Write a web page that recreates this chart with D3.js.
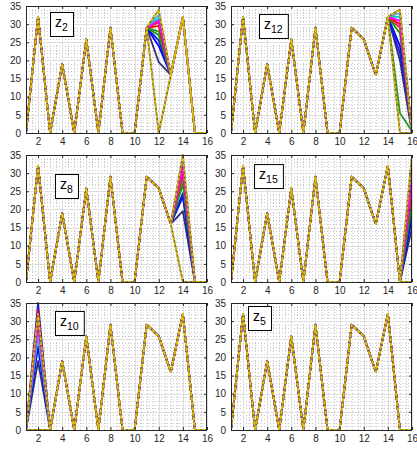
<!DOCTYPE html>
<html><head><meta charset="utf-8">
<script src="https://cdn.jsdelivr.net/npm/d3@7"></script>
<style>body{margin:0;background:#fff}</style>
</head><body><svg id="c" width="417" height="449"></svg>
<script>
// ---------- data ----------
const xValues = [1,2,3,4,5,6,7,8,9,10,11,12,13,14,15,16];
const xTicks = [2,4,6,8,10,12,14,16];
const yTicks = [0,5,10,15,20,25,30,35];
const baseProfile = [0,32,0,19,0,25.8,0,29,0,0,29,25.8,16,32,0,0];
// series order: navy, blue, blue2, green, green2, red, red2, cyan, cyan2, brownA, magenta, brownB, yellowA, yellowB
const seriesColors = ["#2e2e78","#0000ff","#1a1ae0","#00a000","#2a9a2a","#ff0000","#e8283c","#00c8c8","#30b8e0","#8a6a30","#ff00ff","#8a6a30","#dcc400","#dcc400"];
const dashedSeries = [12,13];
const panelNames = ["z2","z12","z8","z15","z10","z5"];
const panelSubs = ["2","12","8","15","10","5"];
const z2At12  = [19.5,24,25.5,27,28,29.5,30.5,31.5,32.5,0,31,34,0,34];
const z12At15 = [20,24,22,27.5,5.5,30,29,32,33,0,31,34,0,34];
const z12At16 = [0,2.5,1.5,0,0.5,0,0,0,0,0,0,0,0,0];
const z8At14  = [19.5,23.5,24.5,27,28,30,31,32.5,33,0,32,35,0,35];
const z15At16 = [15,18,20,22,24,26,28,30,31,0,29,35,0,35];
const z10At2  = [19,23,35,27,28,33,30,31,26,0,29,32,0,32];
// label box anchors (data coordinates, top-left)
const labelX = [2.99,3.32,3.40,2.91,3.40,2.41];
const labelY = [33.35,32.8,29.76,32.5,32.8,34.17];

const panelOverrides = [
  [[12, z2At12]],
  [[15, z12At15],[16, z12At16]],
  [[14, z8At14]],
  [[16, z15At16]],
  [[2, z10At2]],
  []
];

// ---------- drawing ----------
const svg = d3.select("#c");
const cols = [[26,207],[231,412]];
const rows = [[6,133],[155,282],[303,430]];
const font = "'Liberation Sans', Arial, Helvetica, sans-serif";
const axisCol = "#262626";

panelNames.forEach((name,k)=>{
  const [x0,x1] = cols[k%2];
  const [y0,y1] = rows[Math.floor(k/2)];
  const x = d3.scaleLinear().domain([1,16]).range([x0,x1]);
  const y = d3.scaleLinear().domain([0,35]).range([y1,y0]);
  const g = svg.append("g");

  const clipId = "clip"+k;
  svg.append("clipPath").attr("id",clipId).append("rect")
    .attr("x",x0).attr("y",y0-1).attr("width",x1-x0).attr("height",y1-y0+2);

  // minor grid
  const xMinor = d3.range(1,16.001,0.5).filter(v=>!xTicks.includes(v));
  const yMinor = d3.range(0,35.001,1).filter(v=>!yTicks.includes(v));
  g.append("g").selectAll("line").data(xMinor).join("line")
    .attr("x1",d=>Math.round(x(d))+0.5).attr("x2",d=>Math.round(x(d))+0.5)
    .attr("y1",y0).attr("y2",y1)
    .attr("stroke","#b8b8b8").attr("stroke-width",0.8).attr("stroke-dasharray","1,2");
  g.append("g").selectAll("line").data(yMinor).join("line")
    .attr("y1",d=>Math.round(y(d))+0.5).attr("y2",d=>Math.round(y(d))+0.5)
    .attr("x1",x0).attr("x2",x1)
    .attr("stroke","#b8b8b8").attr("stroke-width",0.8).attr("stroke-dasharray","1,2");
  // major grid
  g.append("g").selectAll("line").data(xTicks).join("line")
    .attr("x1",d=>Math.round(x(d))+0.5).attr("x2",d=>Math.round(x(d))+0.5)
    .attr("y1",y0).attr("y2",y1).attr("stroke","#dedede").attr("stroke-width",1);
  g.append("g").selectAll("line").data(yTicks).join("line")
    .attr("y1",d=>Math.round(y(d))+0.5).attr("y2",d=>Math.round(y(d))+0.5)
    .attr("x1",x0).attr("x2",x1).attr("stroke","#dedede").attr("stroke-width",1);

  // series
  const series = seriesColors.map((c,i)=>{
    const vals = baseProfile.slice();
    panelOverrides[k].forEach(([xv,arr])=>{ vals[xValues.indexOf(xv)] = arr[i]; });
    return {color:c, vals, idx:i};
  });
  const line = d3.line().x((d,i)=>x(xValues[i])).y(d=>y(d));
  const lg = g.append("g").attr("clip-path",`url(#${clipId})`);
  series.forEach(s=>{
    const dashed = dashedSeries.includes(s.idx);
    lg.append("path").attr("d",line(s.vals)).attr("fill","none")
      .attr("stroke",s.color).attr("stroke-width",dashed?1.6:1.8)
      .attr("stroke-linejoin","round")
      .attr("stroke-dasharray",dashed?"3,2":null);
  });

  // axes
  const fmt = d3.format("d");
  const ax = g.append("g").attr("transform",`translate(0,${y1})`)
    .call(d3.axisBottom(x).tickValues(xTicks).tickFormat(fmt).tickSize(-3).tickSizeOuter(0).tickPadding(5));
  const ay = g.append("g").attr("transform",`translate(${x0},0)`)
    .call(d3.axisLeft(y).tickValues(yTicks).tickFormat(fmt).tickSize(-3).tickSizeOuter(0).tickPadding(5));
  const at = g.append("g").attr("transform",`translate(0,${y0})`)
    .call(d3.axisTop(x).tickValues(xTicks).tickFormat("").tickSize(-3).tickSizeOuter(0));
  const ar = g.append("g").attr("transform",`translate(${x1},0)`)
    .call(d3.axisRight(y).tickValues(yTicks).tickFormat("").tickSize(-3).tickSizeOuter(0));
  [ax,ay,at,ar].forEach(a=>{
    a.select(".domain").remove();
    a.selectAll("line").attr("stroke",axisCol);
    a.selectAll("text").attr("fill",axisCol).style("font-family",font).style("font-size","10px");
  });
  g.append("rect").attr("x",x0+0.5).attr("y",y0+0.5).attr("width",x1-x0-1).attr("height",y1-y0)
    .attr("fill","none").attr("stroke",axisCol).attr("stroke-width",1);

  // label box
  const lx = x(labelX[k]), ly = y(labelY[k]);
  const lgp = g.append("g");
  const rect = lgp.append("rect");
  const t = lgp.append("text").attr("x",lx+5).attr("y",ly+15)
    .style("font-family",font).attr("fill","#000");
  t.append("tspan").text("z").style("font-size","14px");
  t.append("tspan").text(panelSubs[k]).style("font-size","10.5px").attr("dy",4);
  const bb = t.node().getBBox();
  rect.attr("x",lx+0.5).attr("y",ly+0.5).attr("width",bb.width+10).attr("height",24)
    .attr("fill","#fff").attr("stroke","#000").attr("stroke-width",1);
});
</script>
</body></html>
